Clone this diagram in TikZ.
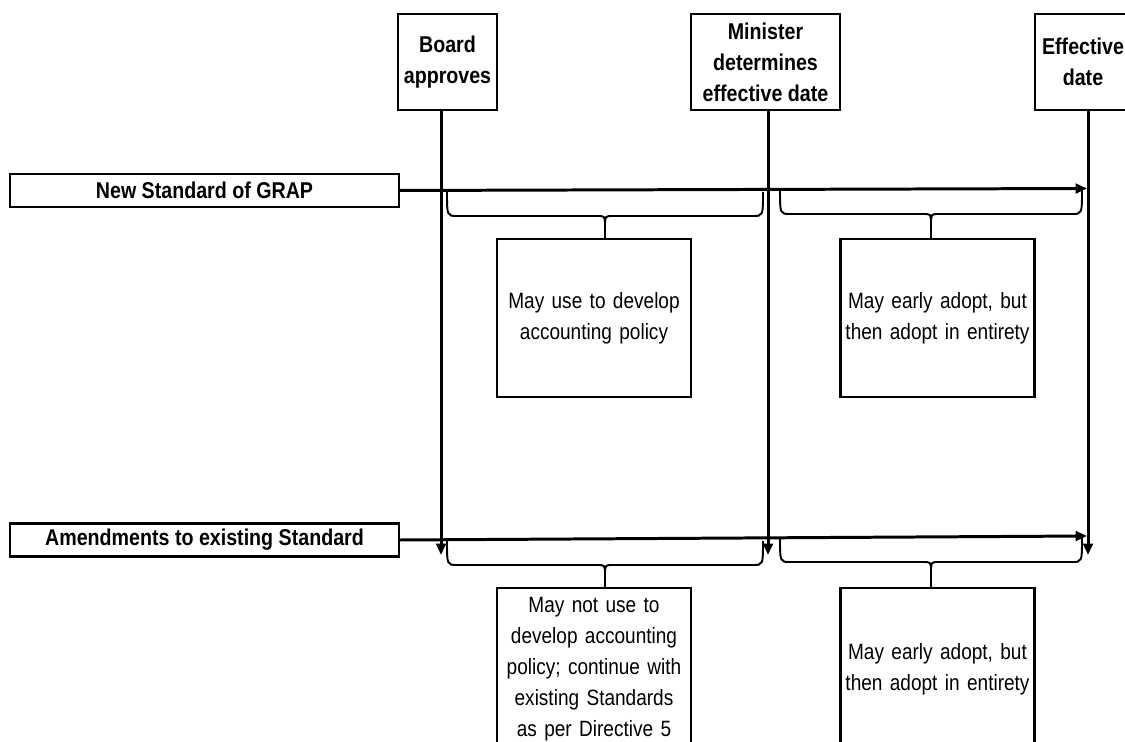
\documentclass[tikz,border=0pt]{standalone}
\usepackage{fontspec}
\setmainfont[FakeStretch=0.86]{Liberation Sans}
\usetikzlibrary{arrows.meta, calc}

\begin{document}
\begin{tikzpicture}[x=0.02cm, y=-0.02cm,
  box/.style={draw, line width=1.2pt, align=center, inner sep=0pt},
  head/.style={box, font=\fontsize{13}{17.6}\selectfont\bfseries},
  note/.style={box, font=\fontsize{12.6}{17.6}\selectfont, text width=3.88cm},
  tline/.style={line width=1.7pt, -{Triangle[length=6.5pt,width=5.5pt]}},
  brace/.style={line width=1.1pt}]
  \clip (0,0) rectangle (1125,742);

  % events along the time line
  \node[head, minimum width=1.98cm, minimum height=1.92cm] (board) at (447.5,62) {Board\\approves};
  \node[head, minimum width=2.98cm, minimum height=1.92cm] (minister) at (765.5,62) {Minister\\determines\\effective date};
  \node[head, minimum width=1.92cm, minimum height=1.92cm] (effective) at (1083,62) {Effective\\date};

  % the two kinds of pronouncement
  \node[head, minimum width=7.78cm, minimum height=0.66cm] (newstd) at (204.5,190.5) {New Standard of GRAP};
  \node[head, minimum width=7.78cm, minimum height=0.66cm] (amend) at (204.5,540) {Amendments to existing Standard};

  % what is allowed in each period
  \node[note, minimum height=3.16cm] (use1) at (594,318) {May use to develop\\accounting policy};
  \node[note, minimum height=3.16cm] (early1) at (937.5,318) {May early adopt, but\\then adopt in entirety};
  \node[note, minimum height=3.24cm] (notuse) at (594,669) {May not use to\\develop accounting\\policy; continue with\\existing Standards\\as per Directive 5};
  \node[note, minimum height=3.24cm] (early2) at (937.5,669) {May early adopt, but\\then adopt in entirety};

  \coordinate (bd) at (441,555);
  \coordinate (md) at (768,555);
  \coordinate (ed) at (1088,555);
  \coordinate (newend) at (1087,188.5);
  \coordinate (amendend) at (1087,536);

  \draw[tline] (board.south -| bd) -- (bd);
  \draw[tline] (minister.south -| md) -- (md);
  \draw[tline] (effective.south -| ed) -- (ed);
  \draw[tline] (newstd.east) -- (newend);
  \draw[tline] (amend.east) -- (amendend);

  % braces down to the notes
  \foreach \xa/\xb/\yy/\bx in {447/763/192/use1, 780/1082/190/early1, 447/763/541/notuse, 780/1082/538/early2}
  {
    \pgfmathsetmacro\xm{(\xa+\xb)/2}
    \draw[brace] (\xa,\yy) .. controls (\xa,\yy+24) and (\xa,\yy+24) .. (\xa+10,\yy+24)
      -- (\xm-8,\yy+24) .. controls (\xm,\yy+24) .. (\xm,\yy+34) -- (\xm,0 |- \bx.north);
    \draw[brace] (\xm,\yy+34) .. controls (\xm,\yy+24) .. (\xm+8,\yy+24)
      -- (\xb-10,\yy+24) .. controls (\xb,\yy+24) and (\xb,\yy+24) .. (\xb,\yy);
  }
\end{tikzpicture}
\end{document}
